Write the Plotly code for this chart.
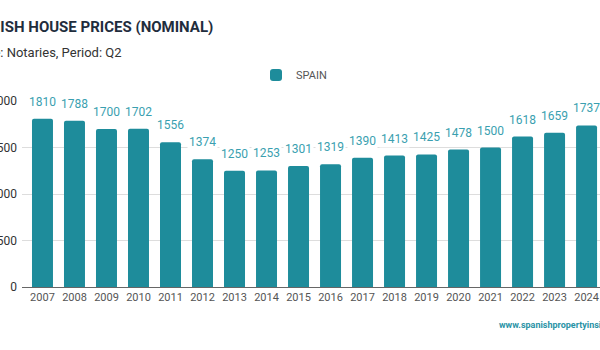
import plotly.graph_objects as go

# ---- data ----
years = [str(y) for y in range(2007, 2025)]
prices = [1810, 1788, 1700, 1702, 1556, 1374, 1250, 1253, 1301, 1319,
          1390, 1413, 1425, 1478, 1500, 1618, 1659, 1737]
series_name = "SPAIN"
y_ticks = [0, 500, 1000, 1500, 2000]
title_text = "SPANISH HOUSE PRICES (NOMINAL)"
subtitle_text = "Source: Notaries, Period: Q2"
watermark_text = "www.spanishpropertyinsight.com"

BAR = "#1e8c9b"
LABEL = "#3a9fb0"
FONT = "Roboto"

W, H = 600, 350
ML, MR, MT, MB = 22, 0, 101, 63
plot_w = W - ML - MR
plot_h = H - MT - MB


def px_x(x):
    return (x - ML) / plot_w


def px_y(y):
    return (H - MB - y) / plot_h


fig = go.Figure()
fig.add_trace(go.Bar(
    x=years, y=prices, name=series_name,
    marker=dict(color=BAR, line=dict(width=0)),
    showlegend=True,
))

annotations = []
for i, v in enumerate(prices):
    annotations.append(dict(
        x=i, y=v, xref="x", yref="y", text=str(v), showarrow=False,
        yanchor="middle", yshift=17,
        font=dict(family=FONT, size=12, color=LABEL),
        bgcolor="white", borderpad=1,
    ))

annotations += [
    dict(x=px_x(215), y=px_y(27), xref="paper", yref="paper",
         text="<b>" + title_text + "</b>", showarrow=False,
         xanchor="right", yanchor="middle",
         font=dict(family=FONT, size=15, color="#1f2d3d")),
    dict(x=px_x(124), y=px_y(52), xref="paper", yref="paper",
         text=subtitle_text, showarrow=False,
         xanchor="right", yanchor="middle",
         font=dict(family=FONT, size=13, color="#333333")),
    dict(x=px_x(497), y=px_y(325), xref="paper", yref="paper",
         text="<b>" + watermark_text + "</b>", showarrow=False,
         xanchor="left", yanchor="middle",
         font=dict(family=FONT, size=9, color="#2a93a6")),
]

fig.update_layout(
    width=W, height=H,
    margin=dict(l=ML, r=MR, t=MT, b=MB, pad=0, autoexpand=False),
    paper_bgcolor="white", plot_bgcolor="white",
    font=dict(family=FONT, size=12, color="#444444"),
    bargap=0.344,
    barcornerradius=2,
    showlegend=True,
    legend=dict(orientation="h", x=px_x(256), y=px_y(75),
                xanchor="left", yanchor="middle",
                font=dict(family=FONT, size=11, color="#555555"),
                bgcolor="rgba(0,0,0,0)"),
    annotations=annotations,
    xaxis=dict(type="category", range=[-0.64, 17.42], automargin=False,
               showgrid=False, showline=True, linecolor="#666666", linewidth=1,
               ticks="", tickfont=dict(family=FONT, size=11, color="#555555"),
               fixedrange=True),
    yaxis=dict(range=[0, 2000], tickvals=y_ticks, automargin=False,
               ticktext=[str(t) for t in y_ticks],
               showgrid=True, gridcolor="#dddddd", gridwidth=1,
               zeroline=False, showline=False, ticks="",
               tickfont=dict(family=FONT, size=12, color="#333333"),
               ticklabelstandoff=4, fixedrange=True),
)

fig.write_html("out.html")
